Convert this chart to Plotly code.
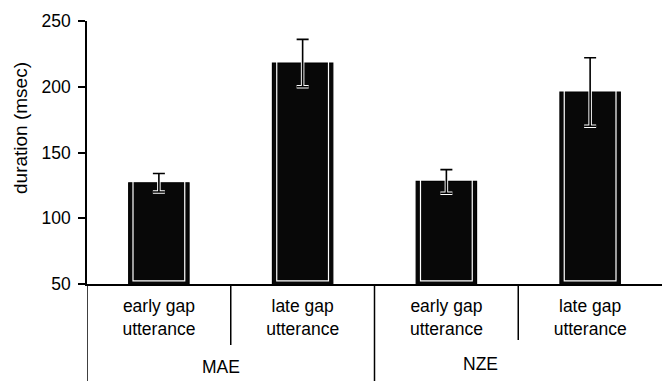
import plotly.graph_objects as go

# ---- data ----
groups = ["MAE", "NZE"]
conditions = ["early gap<br>utterance", "late gap<br>utterance",
              "early gap<br>utterance", "late gap<br>utterance"]
positions = [0, 1, 2, 3]
durations = [127, 218, 128, 196]
errors = [7, 18, 9, 26]
y_ticks = [50, 100, 150, 200, 250]

FONT = "Liberation Sans, Arial, sans-serif"
FS = 17.5
fig = go.Figure()

# outer black bars
fig.add_trace(go.Bar(x=positions, y=durations, width=0.42,
                     marker=dict(color="#080808", line=dict(color="#000", width=1.2)),
                     showlegend=False, hoverinfo="skip"))
# inner white outline
fig.add_trace(go.Bar(x=positions, y=[d - 2.4 for d in durations], base=52.4, width=0.36,
                     marker=dict(color="rgba(0,0,0,0)", line=dict(color="white", width=1.2)),
                     showlegend=False, hoverinfo="skip"))
# white halo error bars
fig.add_trace(go.Scatter(x=positions, y=durations, mode="markers",
                         marker=dict(size=1, opacity=0),
                         error_y=dict(type="data", array=errors, visible=True,
                                      color="white", thickness=3.5, width=6),
                         showlegend=False, hoverinfo="skip"))
# black error bars
fig.add_trace(go.Scatter(x=positions, y=durations, mode="markers",
                         marker=dict(size=1, opacity=0),
                         error_y=dict(type="data", array=errors, visible=True,
                                      color="black", thickness=1.6, width=6),
                         showlegend=False, hoverinfo="skip"))

fig.update_layout(barmode="overlay")

H_PLOT = 263.0
def py(pix):
    return (284 - pix) / H_PLOT

shapes = []
divs = [(-0.5, 381), (0.5, 345), (1.5, 381), (2.5, 340)]
for xv, bottom in divs:
    shapes.append(dict(type="line", xref="x", yref="paper", x0=xv, x1=xv,
                       y0=0, y1=py(bottom), line=dict(color="black", width=1.5)))
fig.update_layout(shapes=shapes)

ann = [
    dict(text="MAE", x=0.43, xref="x", y=py(367), yref="paper", yanchor="middle",
         showarrow=False, font=dict(size=FS, color="black", family=FONT)),
    dict(text="NZE", x=2.24, xref="x", y=py(364), yref="paper", yanchor="middle",
         showarrow=False, font=dict(size=FS, color="black", family=FONT)),
    dict(text="duration (msec)", textangle=-90, x=(20 - 87) / 575.0, xref="paper",
         xanchor="center", y=py(128), yref="paper", yanchor="middle", showarrow=False,
         font=dict(size=19, color="black", family=FONT)),
]
fig.update_layout(annotations=ann)

fig.update_xaxes(range=[-0.5, 3.5], tickvals=positions, ticktext=conditions,
                 showline=True, linecolor="black", linewidth=1.5, ticks="",
                 showgrid=False, zeroline=False, ticklabelstandoff=5,
                 tickfont=dict(size=FS, color="black", family=FONT))
fig.update_yaxes(range=[50, 250], tickvals=y_ticks, showline=True, linecolor="black",
                 linewidth=1.5, ticks="outside", ticklen=7, tickwidth=1.5, tickcolor="black",
                 showgrid=False, zeroline=False, ticklabelstandoff=4,
                 tickfont=dict(size=FS, color="black", family=FONT))

fig.update_layout(width=662, height=381, margin=dict(l=87, r=0, t=21, b=97),
                  plot_bgcolor="white", paper_bgcolor="white",
                  font=dict(family=FONT, color="black"))

fig.write_html("out.html")
